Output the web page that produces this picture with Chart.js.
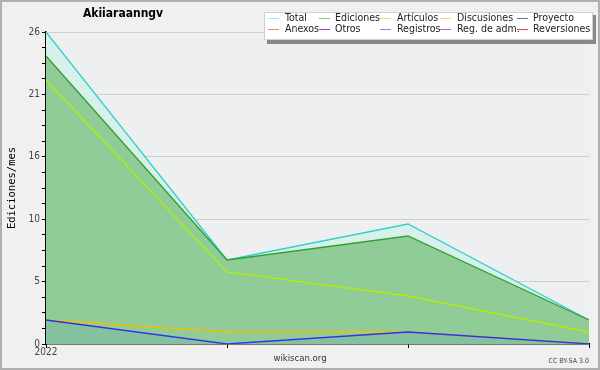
<!DOCTYPE html>
<html>
<head>
<meta charset="utf-8">
<script src="https://cdn.jsdelivr.net/npm/chart.js@4"></script>
<style>
	html, body { margin: 0; padding: 0; background: #f0f0f0; }
	#wrap { width: 600px; height: 370px; position: relative; }
</style>
</head>
<body>
<div id="wrap"><canvas id="myChart" width="600" height="370"></canvas></div>
<script>
const months = ['2022', '', '', '']
const total = [26, 7, 10, 2]
const ediciones = [24, 7, 9, 2]
const articulos = [22, 6, 4, 1]
const discusiones = [2, 1, 1, 0]
const registros = [2, 0, 1, 0]

const legendNames = ['Total', 'Ediciones', 'Artículos', 'Discusiones', 'Proyecto',
	'Anexos', 'Otros', 'Registros', 'Reg. de adm.', 'Reversiones']
const legendColors = ['#a8e4e4', '#88c888', '#c8f070', '#f4d078', '#707070',
	'#f08850', '#8848d8', '#8888f0', '#d050e0', '#e04040']

const canvas = document.getElementById('myChart')
const cond = '"DejaVu Sans Condensed", "DejaVu Sans"'

// frame, title, axis title, credits, legend box
const decor = {
	id: 'decor',
	beforeDraw(chart) {
		const ctx = chart.ctx
		const a = chart.chartArea
		ctx.save()
		ctx.fillStyle = '#f0f0f0'
		ctx.fillRect(0, 0, 600, 370)
		ctx.fillStyle = '#eeeff1'
		ctx.fillRect(a.left, a.top, a.right - a.left, a.bottom - a.top)
		ctx.strokeStyle = '#b0b0b0'
		ctx.lineWidth = 2
		ctx.strokeRect(1, 1, 598, 368)
		ctx.restore()
	},
	afterDraw(chart) {
		const ctx = chart.ctx
		ctx.save()
		ctx.fillStyle = '#000'
		ctx.font = 'bold 12px ' + cond
		ctx.textAlign = 'center'
		ctx.textBaseline = 'middle'
		ctx.fillText('Akiiaraanngv', 123, 14)

		ctx.font = '10.5px "DejaVu Sans Mono"'
		ctx.translate(12, 188)
		ctx.rotate(-Math.PI / 2)
		ctx.fillText('Ediciones/mes', 0, 0)
		ctx.setTransform(1, 0, 0, 1, 0, 0)

		ctx.fillStyle = '#333'
		ctx.font = '9.5px ' + cond
		ctx.fillText('wikiscan.org', 300, 359)
		ctx.font = '7px ' + cond
		ctx.textAlign = 'right'
		ctx.fillStyle = '#444'
		ctx.fillText('CC BY-SA 3.0', 589, 361)

		// legend
		ctx.fillStyle = '#888'
		ctx.fillRect(267, 15, 329, 29)
		ctx.fillStyle = '#fff'
		ctx.fillRect(264, 12, 329, 28)
		ctx.strokeStyle = '#d0d0d0'
		ctx.lineWidth = 1
		ctx.strokeRect(264.5, 12.5, 328, 27)
		const colX = [268, 319, 380, 440, 517]
		const textX = [285, 335, 397, 457, 533]
		ctx.font = '10.5px ' + cond
		ctx.textAlign = 'left'
		legendNames.forEach((name, i) => {
			const c = i % 5
			const y = i < 5 ? 18.5 : 29.5
			ctx.strokeStyle = legendColors[i]
			ctx.beginPath()
			ctx.moveTo(colX[c], y)
			ctx.lineTo(colX[c] + 11, y)
			ctx.stroke()
			ctx.fillStyle = '#222'
			ctx.fillText(name, textX[c], y)
		})
		ctx.restore()
	},
}

const line = (label, data, color, fill, order) => ({
	label,
	data,
	borderColor: color,
	backgroundColor: fill || 'transparent',
	fill: fill ? 'origin' : false,
	borderWidth: 1.3,
	pointRadius: 0,
	tension: 0,
	order,
})

const config = {
	type: 'line',
	data: {
		labels: months,
		datasets: [
			line('Total', total, '#30d0cc', '#d8f0ea', 10),
			line('Ediciones', ediciones, '#30a030', '#90cc98', 9),
			line('Artículos', articulos, '#b0f000', null, 8),
			line('Discusiones', discusiones, '#f0c000', null, 7),
			line('Registros', registros, '#3030f0', 'rgba(40,120,200,0.12)', 6),
		],
	},
	options: {
		responsive: false,
		animation: false,
		layout: { padding: { left: 0, top: 32, right: 11, bottom: 0 } },
		plugins: {
			legend: { display: false },
			tooltip: { enabled: false },
		},
		scales: {
			x: {
				offset: false,
				afterFit: (s) => { s.height = 26 },
				border: { color: '#000', width: 1.5 },
				grid: { drawOnChartArea: false, tickLength: 4, color: '#000' },
				ticks: {
					autoSkip: false,
					maxRotation: 0,
					padding: -2,
					color: '#444',
					font: { family: 'DejaVu Sans Condensed, DejaVu Sans', size: 10 },
				},
			},
			y: {
				min: 0,
				max: 26,
				afterFit: (s) => { s.width = 46 },
				border: { color: '#000', width: 1.5 },
				grid: {
					tickLength: 4,
					color: (c) => (c.index % 4 === 0 && c.index > 0 ? '#cfcfcf' : 'transparent'),
					tickColor: '#000',
				},
				ticks: {
					stepSize: 1.3,
					maxTicksLimit: 30,
					autoSkip: false,
					padding: 2,
					color: '#444',
					font: { family: 'DejaVu Sans Condensed, DejaVu Sans', size: 10 },
					callback: (v, i) => (i % 4 === 0 ? String(Math.round(v)) : ''),
				},
			},
		},
	},
	plugins: [decor],
}

const myChart = new Chart(canvas, config)
</script>
</body>
</html>
